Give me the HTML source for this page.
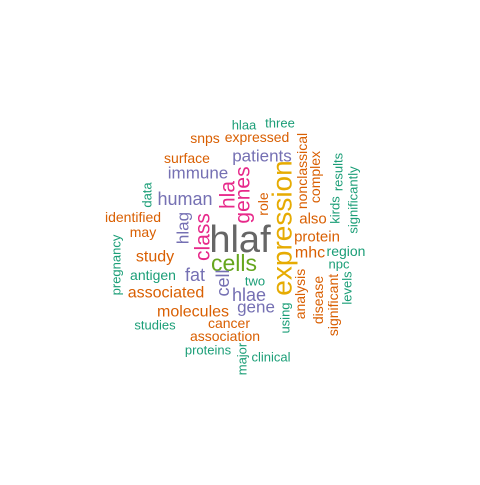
<!DOCTYPE html>
<html><head><meta charset="utf-8"><style>html,body{margin:0;background:#fff}svg text{font-family:"Liberation Sans",Arial,sans-serif}</style></head>
<body>
<svg id="c" width="480" height="480" xmlns="http://www.w3.org/2000/svg"></svg>
<script>
const words=["hlaf","cells","expression","class","hla","genes","human","immune","patients","surface","snps","expressed","hlaa","three","data","identified","may","hlag","pregnancy","study","antigen","fat","associated","cell","hlae","two","gene","molecules","studies","cancer","association","proteins","major","clinical","using","analysis","disease","significant","levels","npc","region","mhc","protein","also","kirds","results","significantly","nonclassical","complex","role"];
const sizes=[38,23,28,21,21,21,18,17,17,14,14,14,13,13,13,14,14,17,13,16,14,18,16,18,18,13,17,16,13,14,14,13,13,13,13,14,14,14,13,13,14,16,15,15,13,13,13,14,14,14];
const xs=[240,234,282,203,228,243,185,198,262,187,205,257,244,280,147,133,143,183,116,155,153,195,166,223,249,255,256,193,155,229,225,208,242,271,285,300,318,333,347,339,346,310,317,313,335,338,353,302,315,263];
const ys=[240,263,228,237,195,195,199,173,156,158,138,137,125,123,195,217,232,228,265,257,275,275,293,283,295,281,307,312,325,323,336,350,359,357,318,294,300,305,288,264,251,253,237,219,210,172,200,171,177,204];
const rot=[0,0,1,1,1,1,0,0,0,0,0,0,0,0,1,0,0,1,1,0,0,0,0,1,0,0,0,0,0,0,0,0,1,0,1,1,1,1,1,0,0,0,0,0,1,1,1,1,1,1];
const cols=["#666666","#66A61E","#E6AB02","#E7298A","#E7298A","#E7298A","#7570B3","#7570B3","#7570B3","#D95F02","#D95F02","#D95F02","#1B9E77","#1B9E77","#1B9E77","#D95F02","#D95F02","#7570B3","#1B9E77","#D95F02","#1B9E77","#7570B3","#D95F02","#7570B3","#7570B3","#1B9E77","#7570B3","#D95F02","#1B9E77","#D95F02","#D95F02","#1B9E77","#1B9E77","#1B9E77","#1B9E77","#D95F02","#D95F02","#D95F02","#1B9E77","#1B9E77","#1B9E77","#D95F02","#D95F02","#D95F02","#1B9E77","#1B9E77","#1B9E77","#D95F02","#D95F02","#D95F02"];
const svg=document.getElementById('c');
words.forEach((w,i)=>{
 const t=document.createElementNS('http://www.w3.org/2000/svg','text');
 
 
 t.setAttribute('x',xs[i]);t.setAttribute('y',ys[i]);
 t.setAttribute('text-anchor','middle');t.setAttribute('dominant-baseline','central');
 t.setAttribute('font-size',sizes[i]);t.setAttribute('fill',cols[i]);
 if(rot[i])t.setAttribute('transform','rotate(-90 '+xs[i]+' '+ys[i]+')');
 t.textContent=w;svg.appendChild(t);
});
</script>
</body></html>
